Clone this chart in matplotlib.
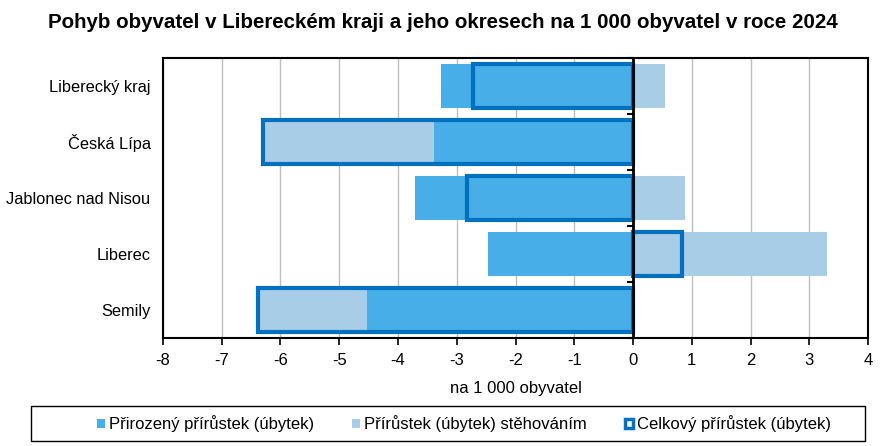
import numpy as np
import matplotlib.pyplot as plt
from matplotlib.patches import Patch, Rectangle

plt.rcParams['font.family'] = ['Liberation Sans', 'DejaVu Sans']

# data - na 1 000 obyvatel
regions = ['Liberecký kraj', 'Česká Lípa', 'Jablonec nad Nisou', 'Liberec', 'Semily']
natural = [-3.27, -3.39, -3.71, -2.47, -4.53]
migration = [0.54, -2.91, 0.88, 3.31, -1.86]
total = [-2.73, -6.30, -2.83, 0.84, -6.39]

c_nat = '#48AEE7'
c_mig = '#A7CDE7'
c_tot = '#0070C0'

fig = plt.figure(figsize=(8.86, 4.46), dpi=100)
ax = fig.add_axes([163/886, 1-338/446, 705/886, 280/446])

y = np.arange(len(regions))
h = 0.77
nat = np.array(natural)
mig = np.array(migration)
# migration stacks on natural if same sign, else starts from zero
mig_left = np.where(np.sign(mig) == np.sign(nat), nat, 0)

ax.barh(y, nat, height=h, color=c_nat, zorder=2)
ax.barh(y, mig, left=mig_left, height=h, color=c_mig, zorder=2)
ax.barh(y, total, height=h, facecolor='none', edgecolor=c_tot, linewidth=3, zorder=3)

ax.set_xlim(-8, 4)
ax.set_ylim(len(regions)-0.5, -0.5)
ax.set_xticks(range(-8, 5))
ax.set_xticklabels([str(v) for v in range(-8, 5)], fontsize=12)
ax.set_yticks(y)
ax.set_yticklabels(regions, fontsize=11.8)
ax.tick_params(axis='y', length=0, pad=9)
ax.tick_params(axis='x', direction='out', length=5, width=1.2, pad=6)
ax.grid(axis='x', color='#BFBFBF', linewidth=1, zorder=0)
for s in ax.spines.values():
    s.set_linewidth(1.5)

# zero axis with ticks between categories
ax.axvline(0, color='black', linewidth=2, zorder=4)
for b in np.arange(-0.5, len(regions)):
    ax.plot([-0.08, 0], [b, b], color='black', linewidth=1.5, zorder=4, clip_on=False)

ax.set_xlabel('na 1 000 obyvatel', fontsize=12, labelpad=9)
fig.suptitle('Pohyb obyvatel v Libereckém kraji a jeho okresech na 1 000 obyvatel v roce 2024',
             fontsize=14.8, fontweight='bold', y=0.97)

handles = [Patch(facecolor=c_nat, edgecolor='none'),
           Patch(facecolor=c_mig, edgecolor='none'),
           Patch(facecolor='white', edgecolor=c_tot, linewidth=2.5)]
labels = ['Přirozený přírůstek (úbytek)', 'Přírůstek (úbytek) stěhováním', 'Celkový přírůstek (úbytek)']
leg = fig.legend(handles, labels, ncol=3, loc='center', bbox_to_anchor=(464/886, 1-424/446),
                 fontsize=12, frameon=False, handlelength=0.45, handleheight=0.45,
                 handletextpad=0.25, columnspacing=2.3, borderpad=0, borderaxespad=0)
fig.add_artist(Rectangle((31/886, 1-441/446), 834/886, 35/446, transform=fig.transFigure,
                         facecolor='none', edgecolor='black', linewidth=1))

fig.savefig('out.png', dpi=100)
